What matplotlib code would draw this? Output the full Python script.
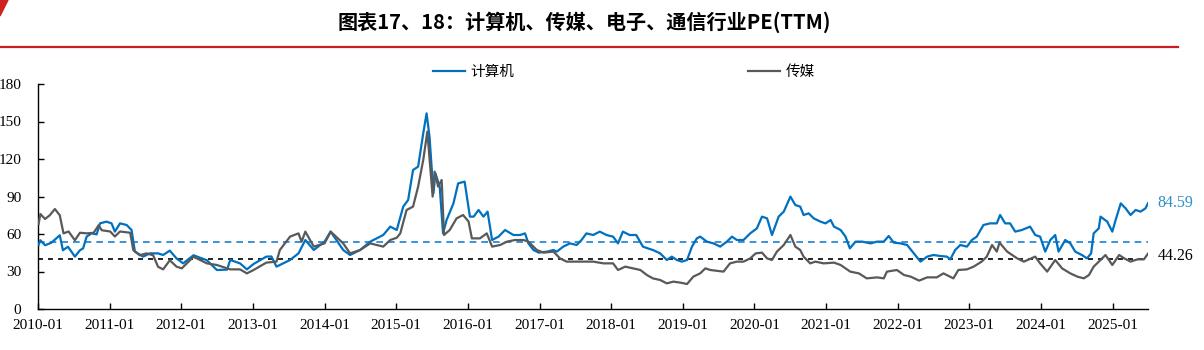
import matplotlib
matplotlib.use("Agg")
import matplotlib.pyplot as plt
from matplotlib.lines import Line2D
from matplotlib.patches import Polygon
import pandas as pd

# 计算机行业 PE(TTM)
computer_dates = [
    '2010-01-04', '2010-01-13', '2010-02-06', '2010-03-10', '2010-04-22', '2010-05-08',
    '2010-06-03', '2010-07-08', '2010-08-03', '2010-08-19', '2010-09-06', '2010-10-01',
    '2010-10-27', '2010-11-13', '2010-12-16', '2011-01-11', '2011-01-28', '2011-02-23',
    '2011-03-29', '2011-04-23', '2011-05-10', '2011-06-21', '2011-07-25', '2011-09-05',
    '2011-10-01', '2011-11-04', '2011-12-08', '2012-01-11', '2012-03-04', '2012-05-11',
    '2012-07-01', '2012-08-22', '2012-09-07', '2012-10-27', '2012-12-01', '2013-01-04',
    '2013-03-10', '2013-04-05', '2013-05-01', '2013-07-09', '2013-08-21', '2013-09-25',
    '2013-11-07', '2014-01-01', '2014-02-01', '2014-04-06', '2014-05-11', '2014-07-01',
    '2014-08-22', '2014-10-27', '2014-12-02', '2015-01-04', '2015-02-06', '2015-03-03',
    '2015-03-28', '2015-04-23', '2015-05-19', '2015-06-05', '2015-06-20', '2015-07-10',
    '2015-07-20', '2015-08-11', '2015-08-28', '2015-09-15', '2015-10-20', '2015-11-13',
    '2015-12-16', '2016-01-12', '2016-01-31', '2016-02-25', '2016-03-21', '2016-04-11',
    '2016-05-04', '2016-06-06', '2016-07-09', '2016-08-21', '2016-09-24', '2016-10-19',
    '2016-11-05', '2016-12-01', '2016-12-28', '2017-02-08', '2017-03-13', '2017-03-30',
    '2017-05-02', '2017-06-05', '2017-07-09', '2017-08-03', '2017-08-28', '2017-10-01',
    '2017-11-04', '2017-12-08', '2018-01-11', '2018-02-05', '2018-03-02', '2018-04-05',
    '2018-05-09', '2018-06-12', '2018-07-07', '2018-08-02', '2018-09-08', '2018-10-12',
    '2018-11-06', '2018-12-02', '2018-12-28', '2019-01-23', '2019-02-17', '2019-03-14',
    '2019-03-31', '2019-05-04', '2019-06-07', '2019-07-11', '2019-08-14', '2019-09-09',
    '2019-10-04', '2019-11-07', '2019-12-11', '2020-01-14', '2020-02-09', '2020-03-06',
    '2020-03-31', '2020-05-04', '2020-05-30', '2020-07-03', '2020-07-28', '2020-08-22',
    '2020-09-08', '2020-10-04', '2020-10-30', '2020-12-03', '2020-12-29', '2021-01-24',
    '2021-02-10', '2021-03-16', '2021-04-10', '2021-05-02', '2021-05-31', '2021-07-04',
    '2021-08-15', '2021-09-18', '2021-10-22', '2021-11-16', '2021-12-12', '2022-01-15',
    '2022-02-18', '2022-03-24', '2022-04-27', '2022-05-31', '2022-07-02', '2022-08-06',
    '2022-09-09', '2022-09-26', '2022-10-21', '2022-11-16', '2022-12-20', '2023-01-14',
    '2023-02-08', '2023-03-14', '2023-04-17', '2023-05-21', '2023-06-07', '2023-07-03',
    '2023-07-28', '2023-08-23', '2023-09-26', '2023-11-07', '2023-12-03', '2023-12-28',
    '2024-01-23', '2024-02-18', '2024-03-14', '2024-03-31', '2024-05-04', '2024-05-30',
    '2024-06-24', '2024-07-28', '2024-08-23', '2024-09-13', '2024-09-26', '2024-10-22',
    '2024-10-31', '2024-12-04', '2024-12-30', '2025-01-16', '2025-02-11', '2025-03-08',
    '2025-04-02', '2025-04-28', '2025-05-23', '2025-06-17', '2025-06-30',
]
computer_pe = [
    51.2, 55.0, 51.0, 53.0, 59.0, 47.0,
    49.8, 41.9, 47.0, 48.5, 57.9, 60.5,
    59.7, 68.5, 69.9, 68.5, 61.9, 68.5,
    67.2, 63.2, 45.9, 41.9, 44.5, 44.5,
    43.2, 46.7, 40.5, 36.5, 43.0, 39.0,
    31.2, 31.5, 39.2, 36.5, 31.7, 36.0,
    41.9, 42.0, 33.9, 39.2, 44.5, 55.2,
    47.2, 53.9, 61.9, 47.2, 43.2, 47.2,
    53.9, 59.2, 65.9, 63.2, 81.9, 87.2,
    111.2, 113.9, 140.5, 156.5, 137.9, 92.5,
    108.5, 97.9, 60.5, 71.2, 84.5, 100.5,
    101.9, 73.9, 73.9, 79.2, 73.9, 77.9,
    55.2, 57.9, 63.2, 59.2, 59.2, 60.5,
    52.5, 47.2, 45.1, 45.9, 47.2, 45.9,
    49.9, 52.5, 51.2, 55.2, 60.5, 59.2,
    61.9, 59.2, 57.9, 52.5, 61.9, 59.2,
    59.2, 49.9, 48.5, 47.2, 44.5, 39.2,
    41.9, 39.2, 37.9, 39.2, 49.9, 56.5,
    57.9, 53.9, 52.5, 49.9, 53.9, 57.9,
    55.2, 55.2, 60.5, 64.5, 73.9, 72.5,
    59.2, 73.9, 77.9, 89.9, 83.2, 81.9,
    75.2, 76.5, 72.5, 69.9, 68.5, 71.2,
    65.9, 63.2, 57.9, 48.5, 53.9, 53.9,
    52.5, 53.9, 53.9, 58.4, 53.1, 52.5,
    51.2, 44.5, 37.9, 41.9, 43.2, 42.4,
    41.9, 39.7, 47.2, 51.2, 49.9, 55.2,
    57.9, 67.2, 68.5, 68.5, 75.2, 68.5,
    68.5, 61.9, 63.2, 65.9, 59.2, 57.9,
    45.9, 55.2, 59.2, 45.9, 55.2, 52.5,
    45.9, 43.2, 40.5, 44.5, 60.5, 64.5,
    73.9, 69.9, 61.9, 71.2, 84.5, 80.5,
    75.2, 79.2, 77.9, 80.5, 84.59,
]

# 传媒行业 PE(TTM)
media_dates = [
    '2010-01-04', '2010-01-13', '2010-02-06', '2010-03-02', '2010-03-28', '2010-04-22',
    '2010-05-11', '2010-06-06', '2010-07-08', '2010-08-03', '2010-09-06', '2010-10-12',
    '2010-11-06', '2010-11-22', '2011-01-04', '2011-01-28', '2011-02-23', '2011-04-16',
    '2011-05-02', '2011-06-04', '2011-07-08', '2011-08-11', '2011-09-05', '2011-10-01',
    '2011-11-04', '2011-12-08', '2012-01-04', '2012-03-04', '2012-05-11', '2012-07-01',
    '2012-09-07', '2012-10-27', '2012-12-01', '2013-01-04', '2013-03-10', '2013-05-01',
    '2013-05-18', '2013-07-09', '2013-08-21', '2013-09-06', '2013-09-25', '2013-11-07',
    '2014-01-01', '2014-02-01', '2014-04-06', '2014-05-11', '2014-07-01', '2014-08-22',
    '2014-10-27', '2014-12-02', '2015-01-04', '2015-01-22', '2015-02-23', '2015-03-28',
    '2015-04-23', '2015-05-19', '2015-06-09', '2015-06-21', '2015-07-06', '2015-07-16',
    '2015-08-03', '2015-08-21', '2015-09-02', '2015-10-01', '2015-11-05', '2015-12-08',
    '2016-01-05', '2016-01-22', '2016-03-03', '2016-04-07', '2016-05-04', '2016-06-14',
    '2016-07-19', '2016-08-29', '2016-10-11', '2016-11-05', '2016-12-18', '2017-01-22',
    '2017-03-13', '2017-04-15', '2017-05-19', '2017-08-13', '2017-10-01', '2017-11-24',
    '2018-01-11', '2018-02-05', '2018-03-14', '2018-04-23', '2018-05-30', '2018-07-02',
    '2018-08-02', '2018-09-08', '2018-10-12', '2018-11-14', '2018-12-20', '2019-01-23',
    '2019-02-24', '2019-03-31', '2019-04-26', '2019-05-22', '2019-07-28', '2019-08-30',
    '2019-10-04', '2019-11-07', '2019-12-11', '2020-01-08', '2020-02-09', '2020-03-06',
    '2020-03-31', '2020-04-25', '2020-05-30', '2020-07-03', '2020-07-28', '2020-08-22',
    '2020-09-08', '2020-10-12', '2020-11-07', '2020-12-20', '2021-02-10', '2021-03-16',
    '2021-05-04', '2021-06-17', '2021-07-27', '2021-09-18', '2021-10-22', '2021-11-07',
    '2021-12-28', '2022-02-02', '2022-03-08', '2022-04-20', '2022-05-31', '2022-07-19',
    '2022-08-22', '2022-10-12', '2022-11-06', '2022-12-20', '2023-01-23', '2023-03-05',
    '2023-03-31', '2023-04-27', '2023-05-21', '2023-06-04', '2023-07-13', '2023-09-02',
    '2023-10-06', '2023-12-03', '2023-12-28', '2024-02-02', '2024-03-14', '2024-04-18',
    '2024-05-30', '2024-07-05', '2024-08-07', '2024-09-02', '2024-09-26', '2024-10-31',
    '2024-11-25', '2024-12-30', '2025-02-03', '2025-03-01', '2025-04-02', '2025-05-07',
    '2025-06-09', '2025-06-30',
]
media_pe = [
    68.0, 76.0, 72.0, 75.0, 80.0, 75.0,
    60.5, 62.0, 55.0, 61.0, 60.5, 61.0,
    67.0, 63.0, 62.0, 58.0, 62.0, 61.0,
    47.0, 43.0, 44.5, 43.0, 33.8, 31.7,
    39.0, 33.9, 32.5, 41.8, 36.5, 35.2,
    31.7, 31.7, 28.5, 31.2, 37.1, 37.9,
    47.2, 57.9, 60.5, 53.9, 61.9, 49.9,
    52.5, 61.9, 52.5, 44.5, 47.2, 52.5,
    49.9, 55.2, 57.0, 60.5, 79.2, 81.9,
    97.9, 119.2, 141.9, 119.2, 89.9, 109.9,
    97.9, 103.2, 59.2, 63.2, 72.5, 75.2,
    70.0, 56.5, 56.5, 60.5, 49.9, 51.2,
    53.9, 55.2, 55.2, 53.9, 47.2, 45.1,
    45.9, 40.5, 37.9, 37.9, 37.9, 36.5,
    36.5, 31.2, 33.9, 32.5, 31.2, 27.2,
    24.5, 23.2, 20.5, 21.9, 21.1, 20.0,
    25.9, 28.5, 32.5, 31.2, 29.9, 36.5,
    37.9, 37.9, 40.5, 44.5, 45.1, 40.5,
    39.2, 45.9, 51.2, 59.2, 49.9, 47.2,
    41.9, 36.5, 37.9, 36.5, 37.1, 35.2,
    29.9, 28.5, 24.5, 25.3, 24.5, 29.9,
    31.2, 27.2, 25.9, 22.7, 25.3, 25.3,
    28.5, 24.5, 31.2, 31.7, 33.9, 37.9,
    41.9, 51.2, 45.9, 53.1, 45.9, 40.5,
    37.9, 41.9, 36.5, 29.9, 39.2, 32.5,
    28.5, 25.9, 24.5, 27.2, 33.9, 39.2,
    43.2, 35.2, 43.2, 40.5, 37.9, 39.7,
    39.7, 44.26,
]

# 均值线
computer_mean = 53.6
media_mean = 40.3

year_ticks = [f'{y}-01-01' for y in range(2010, 2026)]
year_labels = [f'{y}-01' for y in range(2010, 2026)]

blue = '#0070c0'
grey = '#595959'

plt.rcParams['font.family'] = ['Liberation Serif', 'Noto Sans CJK SC']
cjk = ['Noto Sans CJK SC', 'DejaVu Sans']

fig = plt.figure(figsize=(12.04, 3.5), dpi=100)
ax = fig.add_axes([38 / 1204, 1 - 309 / 350, (1148 - 38) / 1204, (309 - 84) / 350])

cx = pd.to_datetime(computer_dates)
mx = pd.to_datetime(media_dates)

ax.plot(cx, computer_pe, color=blue, lw=1.6, label='计算机', zorder=3)
ax.plot(mx, media_pe, color=grey, lw=1.6, label='传媒', zorder=3)

x0 = pd.Timestamp(year_ticks[0])
x1 = cx[-1]
ax.plot([x0, x1], [computer_mean] * 2, color='#1a7fd0', lw=1.2, ls=(0, (4, 3)), zorder=2)
ax.plot([x0, x1], [media_mean] * 2, color='black', lw=1.2, ls=(0, (3, 3)), zorder=2)

ax.set_xlim(x0, x1)
ax.set_ylim(0, 180)
ax.set_yticks(range(0, 181, 30))
ax.set_xticks(pd.to_datetime(year_ticks))
ax.set_xticklabels(year_labels)

for s in ['top', 'right']:
    ax.spines[s].set_visible(False)
for s in ['left', 'bottom']:
    ax.spines[s].set_color('black')
    ax.spines[s].set_linewidth(1.0)
ax.tick_params(axis='both', direction='in', length=4, width=1.0, labelsize=11, colors='black')
ax.tick_params(axis='x', pad=7)
ax.tick_params(axis='y', pad=12)

# 末值标注
ax.annotate(f'{computer_pe[-1]:.2f}', xy=(1, computer_pe[-1]), xycoords=('axes fraction', 'data'),
            xytext=(7, 0), textcoords='offset points', va='center', ha='left',
            fontsize=11.5, color='#2e8fc7', annotation_clip=False)
ax.annotate(f'{media_pe[-1]:.2f}', xy=(1, media_pe[-1] - 2), xycoords=('axes fraction', 'data'),
            xytext=(7, 0), textcoords='offset points', va='center', ha='left',
            fontsize=11.5, color='black', annotation_clip=False)

leg = ax.legend(loc='center', bbox_to_anchor=(624 / 1204, 1 - 72 / 350), bbox_transform=fig.transFigure,
                ncol=2, frameon=False, handlelength=2.2, handletextpad=0.4, columnspacing=16,
                prop={'family': cjk, 'size': 10.5})

# 标题与红色分隔线
fig.text(584 / 1204, 1 - 22 / 350, '图表17、18：计算机、传媒、电子、通信行业PE(TTM)',
         ha='center', va='center', fontsize=14.5, fontweight='bold', family=cjk)
fig.add_artist(Line2D([0, 1178 / 1204], [1 - 47 / 350] * 2, color='#c81e1e', lw=1.6,
                      transform=fig.transFigure))
fig.add_artist(Polygon([[0, 1], [8 / 1204, 1], [0, 1 - 16 / 350]], closed=True,
                       color='#d02020', transform=fig.transFigure))

fig.savefig('out.png', dpi=100)
